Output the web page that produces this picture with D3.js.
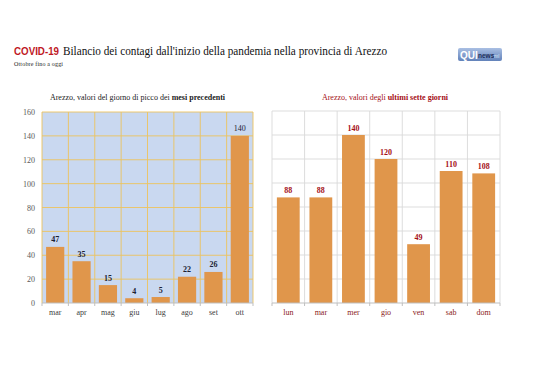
<!DOCTYPE html>
<html><head><meta charset="utf-8">
<script src="https://cdn.jsdelivr.net/npm/d3@7/dist/d3.min.js"></script>
<style>body{margin:0;background:#fff}svg{display:block}
.sf{font-family:"Liberation Serif","DejaVu Serif",serif}
.ss{font-family:"Liberation Sans","DejaVu Sans",sans-serif}</style>
</head><body><svg id="c" width="538" height="380"></svg>
<script>
const monthCats = ["mar","apr","mag","giu","lug","ago","set","ott"];
const monthVals = [47,35,15,4,5,22,26,140];
const dayCats = ["lun","mar","mer","gio","ven","sab","dom"];
const dayVals = [88,88,140,120,49,110,108];
const yTicks = [0,20,40,60,80,100,120,140,160];

const svg = d3.select("#c");
const barCol = "#e0964b";

// Title
svg.append("text").attr("class","ss").attr("x",14).attr("y",55).attr("font-weight","bold")
  .attr("font-size",10.5).attr("fill","#c0181f").attr("textLength",45).attr("lengthAdjust","spacingAndGlyphs").text("COVID-19");
svg.append("text").attr("class","sf").attr("x",63).attr("y",55).attr("font-size",12)
  .attr("fill","#111").attr("textLength",324).attr("lengthAdjust","spacingAndGlyphs")
  .text("Bilancio dei contagi dall'inizio della pandemia nella provincia di Arezzo");
svg.append("text").attr("class","sf").attr("x",14).attr("y",66).attr("font-size",6)
  .attr("fill","#222").attr("textLength",49).text("Ottobre fino a oggi");

// Logo
const defs = svg.append("defs");
const g = defs.append("linearGradient").attr("id","lg").attr("x1",0).attr("y1",0).attr("x2",0).attr("y2",1);
g.append("stop").attr("offset","0%").attr("stop-color","#a9bfe3");
g.append("stop").attr("offset","100%").attr("stop-color","#6282ba");
svg.append("rect").attr("x",458).attr("y",48).attr("width",44).attr("height",13).attr("rx",2).attr("fill","url(#lg)");
svg.append("text").attr("class","ss").attr("x",460).attr("y",58.5).attr("font-weight","bold")
  .attr("font-size",10).attr("fill","#fff").text("QUI");
svg.append("text").attr("class","ss").attr("x",478).attr("y",58).attr("font-weight","bold")
  .attr("font-size",6.5).attr("fill","#1c2f5a").text("news");
svg.append("text").attr("class","ss").attr("x",494).attr("y",58)
  .attr("font-size",5).attr("fill","#dfe8f7").text("ml");

// ===== Left chart =====
const L = {x0:42, x1:253, y0:303, y1:112};
const yL = d3.scaleLinear().domain([0,160]).range([L.y0,L.y1]);
const stepL = (L.x1-L.x0)/monthCats.length;
const bwL = stepL*0.69;
const left = svg.append("g");
left.append("rect").attr("x",L.x0).attr("y",L.y1).attr("width",L.x1-L.x0).attr("height",L.y0-L.y1).attr("fill","#c9d8f0");
left.selectAll(".hg").data(yTicks.slice(1)).join("line")
  .attr("x1",L.x0).attr("x2",L.x1).attr("y1",d=>yL(d)).attr("y2",d=>yL(d))
  .attr("stroke","#ecc35e").attr("stroke-width",0.9);
const bL = monthCats.map((c,i)=>L.x0 + i*stepL).concat([L.x1]);
left.selectAll(".vg").data(bL).join("line")
  .attr("x1",d=>d).attr("x2",d=>d).attr("y1",L.y1).attr("y2",L.y0)
  .attr("stroke","#ecc35e").attr("stroke-width",0.9);
left.selectAll(".bar").data(monthVals).join("rect")
  .attr("x",(d,i)=>L.x0 + i*stepL + (stepL-bwL)/2).attr("width",bwL)
  .attr("y",d=>yL(d)).attr("height",d=>yL(0)-yL(d)).attr("fill",barCol);
left.selectAll(".lbl").data(monthVals).join("text").attr("class","sf")
  .attr("x",(d,i)=>L.x0 + i*stepL + stepL/2).attr("y",d=>yL(d)-4.5)
  .attr("text-anchor","middle").attr("font-size",8)
  .attr("font-weight",(d,i)=>i===monthVals.length-1?"normal":"bold").attr("fill","#1b2233").text(d=>d);
left.selectAll(".yt").data(yTicks).join("text").attr("class","sf")
  .attr("x",35).attr("y",d=>yL(d)+3).attr("text-anchor","end")
  .attr("font-size",8).attr("fill","#595959").text(d=>d);
left.append("line").attr("x1",L.x0).attr("x2",L.x1).attr("y1",L.y0).attr("y2",L.y0).attr("stroke","#bfbfbf");
left.selectAll(".tk").data(bL).join("line").attr("x1",d=>d).attr("x2",d=>d).attr("y1",L.y0).attr("y2",L.y0+3).attr("stroke","#bfbfbf");
left.selectAll(".xt").data(monthCats).join("text").attr("class","sf")
  .attr("x",(d,i)=>L.x0 + i*stepL + stepL/2).attr("y",315).attr("text-anchor","middle")
  .attr("font-size",8).attr("fill","#404040").text(d=>d);
const sl = left.append("text").attr("class","sf").attr("x",137.5).attr("y",100).attr("text-anchor","middle")
  .attr("font-size",8).attr("fill","#222");
sl.append("tspan").text("Arezzo, valori del giorno di picco dei ");
sl.append("tspan").attr("font-weight","bold").text("mesi precedenti");

// ===== Right chart =====
const R = {x0:272, x1:500, y0:303, y1:111};
const yR = d3.scaleLinear().domain([0,160]).range([R.y0,R.y1]);
const stepR = (R.x1-R.x0)/dayCats.length;
const bwR = stepR*0.7;
const right = svg.append("g");
right.selectAll(".hg").data(yTicks.slice(1)).join("line")
  .attr("x1",R.x0).attr("x2",R.x1).attr("y1",d=>yR(d)).attr("y2",d=>yR(d))
  .attr("stroke","#d9d9d9").attr("stroke-width",0.9);
const bR = dayCats.map((c,i)=>R.x0 + i*stepR).concat([R.x1]);
right.selectAll(".vg").data(bR).join("line")
  .attr("x1",d=>d).attr("x2",d=>d).attr("y1",R.y1).attr("y2",R.y0)
  .attr("stroke","#d9d9d9").attr("stroke-width",0.9);
right.selectAll(".bar").data(dayVals).join("rect")
  .attr("x",(d,i)=>R.x0 + i*stepR + (stepR-bwR)/2).attr("width",bwR)
  .attr("y",d=>yR(d)).attr("height",d=>yR(0)-yR(d)).attr("fill",barCol);
right.selectAll(".lbl").data(dayVals).join("text").attr("class","sf")
  .attr("x",(d,i)=>R.x0 + i*stepR + stepR/2).attr("y",d=>yR(d)-4.5)
  .attr("text-anchor","middle").attr("font-size",8)
  .attr("font-weight","bold").attr("fill","#a50f17").text(d=>d);
right.append("line").attr("x1",R.x0).attr("x2",R.x1).attr("y1",R.y0).attr("y2",R.y0).attr("stroke","#bfbfbf");
right.selectAll(".tk").data(bR).join("line").attr("x1",d=>d).attr("x2",d=>d).attr("y1",R.y0).attr("y2",R.y0+3).attr("stroke","#bfbfbf");
right.selectAll(".xt").data(dayCats).join("text").attr("class","sf")
  .attr("x",(d,i)=>R.x0 + i*stepR + stepR/2).attr("y",315).attr("text-anchor","middle")
  .attr("font-size",8).attr("fill","#8b1a1a").text(d=>d);
const sr = right.append("text").attr("class","sf").attr("x",385).attr("y",100).attr("text-anchor","middle")
  .attr("font-size",8).attr("fill","#a50f17");
sr.append("tspan").text("Arezzo, valori degli ");
sr.append("tspan").attr("font-weight","bold").text("ultimi sette giorni");
</script></body></html>
